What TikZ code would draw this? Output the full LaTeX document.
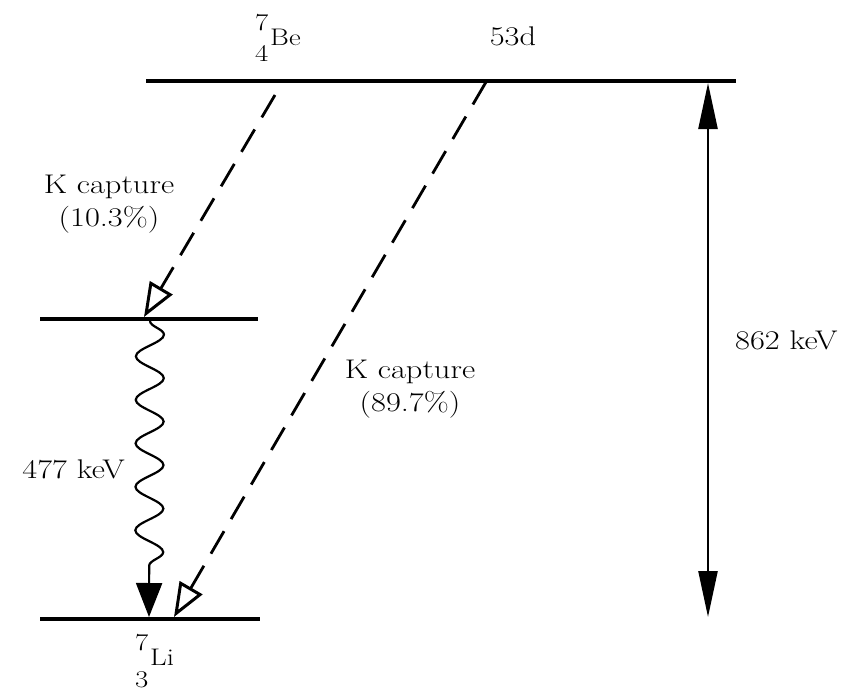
\documentclass[tikz,border=0pt]{standalone}
\usepackage{fontspec}
\usepackage{graphicx}
\usetikzlibrary{arrows.meta,decorations.pathmorphing}
\newcommand{\wide}[1]{\scalebox{1.2}[1]{#1}}
\newcommand{\mynuc}[5]{\wide{\rlap{\raisebox{#4}{#1}}\raisebox{-#5}{#2}\hspace{1.5pt}#3}}
\begin{document}
\begin{tikzpicture}[x=1pt,y=-1pt,
  every node/.style={font=\fontsize{27}{33}\selectfont, inner sep=0pt},
  nuc/.style={font=\fontsize{24}{24}\selectfont, anchor=base west},
  level/.style={line width=3.2pt},
  capture/.style={line width=2.8pt, dash pattern=on 26pt off 14pt,
    -{Triangle[open,length=34pt,width=26pt,line width=3pt]}},
  gamma/.style={line width=2.2pt, decorate,
    decoration={snake,amplitude=14pt,segment length=43.5pt,post length=33pt},
    -{Triangle[length=34pt,width=26pt]}},
  span/.style={line width=2.4pt, {Triangle[length=46pt,width=19pt]}-{Triangle[length=46pt,width=19pt]}}]
\useasboundingbox (0,0) rectangle (854,693);
% levels
\coordinate (topL) at (146,81);   \coordinate (topR) at (736,81);
\coordinate (midL) at (40,319);   \coordinate (midR) at (258,319);
\coordinate (botL) at (40,619);   \coordinate (botR) at (260,619);
\draw[level] (topL) -- (topR);
\draw[level] (midL) -- (midR);
\draw[level] (botL) -- (botR);
% labels
\node[nuc] (be) at (255,46) {\mynuc{7}{4}{Be}{16pt}{16pt}};
\node[anchor=base] (half) at (513,46) {\wide{53d}};
\node[align=center] (k1) at (109,204) {\wide{K capture}\\\wide{(10.3\%)}};
\node[align=center] (k2) at (410,389) {\wide{K capture}\\\wide{(89.7\%)}};
\node[anchor=base west] (e862) at (735,349) {\wide{862 keV}};
\node[anchor=base east] (e477) at (125,478) {\wide{477 keV}};
\node[nuc] (li) at (135,665) {\mynuc{7}{3}{Li}{15pt}{22pt}};
% transitions
\coordinate (c1s) at (275,95);  \coordinate (c1e) at (144,317);
\coordinate (c2s) at (486,82);  \coordinate (c2e) at (174,617);
\draw[capture] (c1s) -- (c1e);
\draw[capture] (c2s) -- (c2e);
\coordinate (gs) at (150,321); \coordinate (ge) at (149,617);
\draw[gamma] (gs) -- (ge);
\coordinate (sT) at (708,83); \coordinate (sB) at (708,617);
\draw[span] (sT) -- (sB);
\end{tikzpicture}
\end{document}
